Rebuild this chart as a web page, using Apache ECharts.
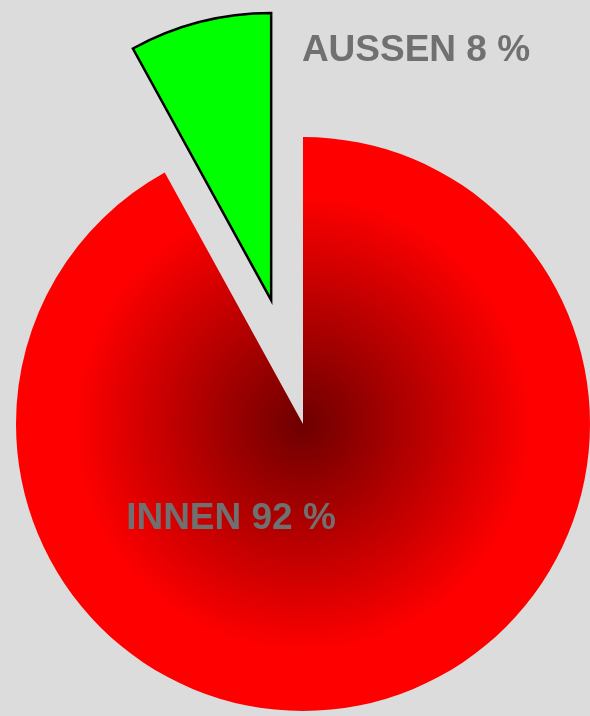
<!DOCTYPE html>
<html>
<head>
<meta charset="utf-8">
<script src="https://cdn.jsdelivr.net/npm/echarts@6/dist/echarts.min.js"></script>
<style>
  html, body { margin: 0; padding: 0; background: #dcdcdc; }
  #pie-chart { width: 590px; height: 716px; }
</style>
</head>
<body>
<div id="pie-chart"></div>
<script>
// Anteile in Prozent
const sliceNames = ['INNEN', 'AUSSEN'];
const sliceValues = [92, 8];
const sliceLabels = ['INNEN 92 %', 'AUSSEN 8 %'];

const chart = echarts.init(document.getElementById('pie-chart'), null, { renderer: 'canvas' });

// label anchors (text centre), in px
const labelPos = [[231, 519], [416, 51]];

const redFill = {
  type: 'radial', x: 303, y: 424, r: 287, global: true,
  colorStops: [
    { offset: 0, color: '#6e0000' },
    { offset: 0.8, color: '#ff0000' },
    { offset: 1, color: '#ff0000' }
  ]
};
const greenStyle = { color: '#00ff00', borderColor: '#000', borderWidth: 2.5, borderJoin: 'miter' };

const option = {
  backgroundColor: '#dcdcdc',
  animation: false,
  // labels drawn as plain text, the pie's own labels follow the exploded slice
  graphic: sliceLabels.map((t, i) => ({
    type: 'text',
    x: labelPos[i][0],
    y: labelPos[i][1],
    z: 10,
    style: {
      text: t,
      align: 'center',
      verticalAlign: 'middle',
      fontFamily: 'Liberation Sans, Arial, sans-serif',
      fontWeight: 'bold',
      fontSize: 37,
      fill: '#707070'
    }
  })),
  series: [{
    type: 'pie',
    center: [303, 424],
    radius: [0, 287],
    startAngle: 90,
    clockwise: true,
    selectedMode: 'single',
    selectedOffset: 128,
    label: { show: false },
    labelLine: { show: false },
    emphasis: { disabled: true },
    data: [
      { name: sliceNames[0], value: sliceValues[0], itemStyle: { color: redFill, borderWidth: 0 } },
      { name: sliceNames[1], value: sliceValues[1], selected: true,
        itemStyle: greenStyle, select: { itemStyle: greenStyle } }
    ]
  }]
};
chart.setOption(option);
</script>
</body>
</html>
